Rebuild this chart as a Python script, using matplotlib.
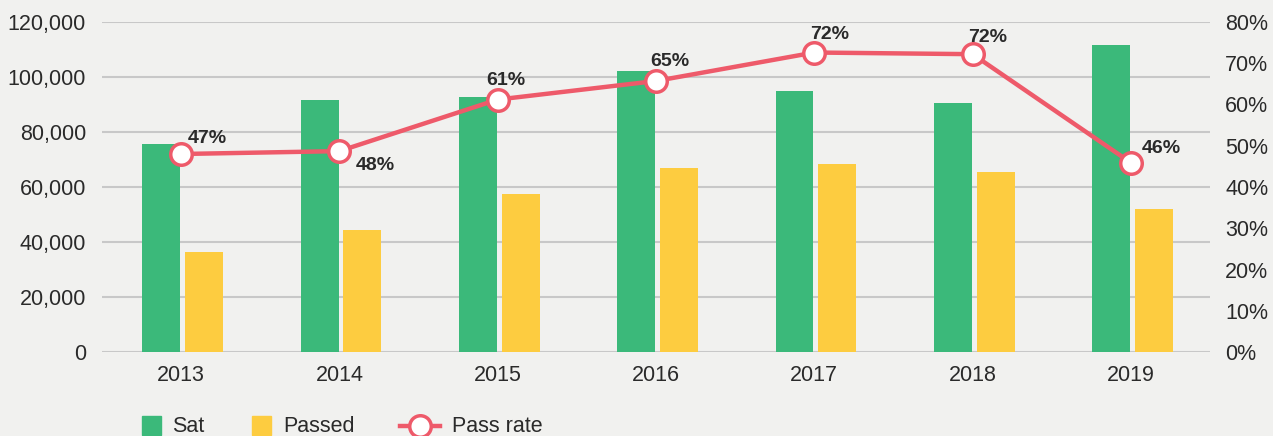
import matplotlib.pyplot as plt
import numpy as np
from matplotlib.ticker import FuncFormatter
from matplotlib.patches import Rectangle
from matplotlib.lines import Line2D

# 데이터
years = ['2013', '2014', '2015', '2016', '2017', '2018', '2019']
sat = [75600, 91600, 92600, 102200, 94900, 90400, 111600]
passed = [36400, 44400, 57500, 66900, 68400, 65500, 52000]
pass_rate = [48.0, 48.7, 61.2, 65.7, 72.6, 72.2, 45.9]
rate_labels = ['47%', '48%', '61%', '65%', '72%', '72%', '46%']

# 색상
bg = '#f1f1ef'
green = '#3bb97a'
yellow = '#fdcc40'
red = '#ee5a6a'
grid_c = '#c8c8c8'
txt = '#2a2a2a'

plt.rcParams['font.family'] = ['Liberation Sans', 'DejaVu Sans']
fs = 15.5

W, H = 1273, 436
fig = plt.figure(figsize=(W / 100, H / 100), dpi=100, facecolor=bg)
ax = fig.add_axes([102/W, 84/H, 1108/W, 330/H])
ax.set_facecolor(bg)

x = np.arange(len(years))
w = 0.24
ax.bar(x - 0.125, sat, width=w, color=green, zorder=2)
ax.bar(x + 0.145, passed, width=w, color=yellow, zorder=2)

ax.set_xlim(-0.5, len(years) - 0.5)
ax.set_ylim(0, 120000)
ax.set_yticks(range(0, 120001, 20000))
ax.yaxis.set_major_formatter(FuncFormatter(lambda v, p: f'{int(v):,}'))
ax.set_xticks(x)
ax.set_xticklabels(years)
ax.grid(axis='y', color=grid_c, linewidth=1.5, zorder=0)
ax.tick_params(length=0, labelsize=fs, labelcolor=txt)
ax.tick_params(axis='y', pad=11.5)
ax.tick_params(axis='x', pad=9)
for s in ax.spines.values():
    s.set_visible(False)

# 오른쪽 축 (합격률)
ax2 = ax.twinx()
ax2.set_ylim(0, 80)
ax2.set_yticks(range(0, 81, 10))
ax2.yaxis.set_major_formatter(FuncFormatter(lambda v, p: f'{int(v)}%'))
ax2.tick_params(length=0, labelsize=fs, labelcolor=txt, pad=11)
for s in ax2.spines.values():
    s.set_visible(False)
ax2.plot(x, pass_rate, color=red, linewidth=3.2, marker='o', markersize=15.5,
         markerfacecolor='white', markeredgecolor=red, markeredgewidth=2.5,
         zorder=3)

# 라벨 위치 (점 기준 오프셋, 포인트)
offsets = [(19, 11), (26, -10), (6, 14), (10, 14), (11, 13), (11, 12), (22, 10)]
for xi, yi, lab, off in zip(x, pass_rate, rate_labels, offsets):
    ax2.annotate(lab, (xi, yi), xytext=off, textcoords='offset points',
                 ha='center', va='center', fontsize=14, fontweight='bold',
                 color=txt)

# 범례 (수동, 위에서부터 픽셀 -> figure 좌표)
ly = (H - 426) / H
fig.patches.append(Rectangle((142/W, 1/H), 19/W, 19/H, transform=fig.transFigure,
                             color=green, figure=fig))
fig.text(172/W, ly, 'Sat', fontsize=fs, color=txt, va='center')
fig.patches.append(Rectangle((252/W, 1/H), 19/W, 19/H, transform=fig.transFigure,
                             color=yellow, figure=fig))
fig.text(283/W, ly, 'Passed', fontsize=fs, color=txt, va='center')
fig.lines.append(Line2D([400/W, 440/W], [ly, ly], transform=fig.transFigure,
                        color=red, linewidth=3.2, figure=fig))
fig.lines.append(Line2D([420/W], [ly], transform=fig.transFigure, marker='o',
                        markersize=15.5, markerfacecolor='white',
                        markeredgecolor=red, markeredgewidth=2.5, figure=fig))
fig.text(452/W, ly, 'Pass rate', fontsize=fs, color=txt, va='center')

fig.savefig('out.png', dpi=100, facecolor=bg)
